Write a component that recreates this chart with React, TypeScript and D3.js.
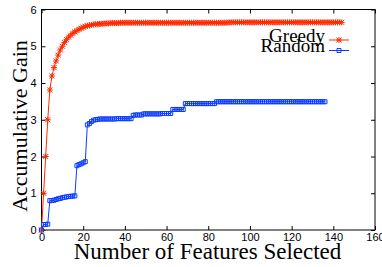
import React, {useEffect, useRef} from 'react';
import * as d3 from 'd3';

const width = 382;
const height = 267;
const margin = {top: 9.5, right: 7, bottom: 37, left: 41.5};

const xTicks = [0, 20, 40, 60, 80, 100, 120, 140, 160];
const yTicks = [0, 1, 2, 3, 4, 5, 6];

const seriesNames = ["Greedy", "Random"];

// accumulative gain per number of selected features (index = features)
const greedyGain = [
    0, 1.0, 2.0, 3.0, 3.81, 4.19, 4.42, 4.6, 4.76, 4.9,
    5.0, 5.1, 5.18, 5.25, 5.3, 5.35, 5.39, 5.43, 5.46, 5.49,
    5.52, 5.54, 5.56, 5.57, 5.58, 5.59, 5.6, 5.6, 5.61, 5.61,
    5.62, 5.62, 5.62, 5.63, 5.63, 5.63, 5.63, 5.63, 5.64, 5.64,
    5.64, 5.64, 5.64, 5.64, 5.64, 5.64, 5.64, 5.64, 5.64, 5.64,
    5.64, 5.64, 5.64, 5.64, 5.64, 5.64, 5.64, 5.64, 5.64, 5.64,
    5.64, 5.64, 5.64, 5.64, 5.64, 5.64, 5.64, 5.64, 5.64, 5.64,
    5.64, 5.64, 5.64, 5.64, 5.64, 5.64, 5.64, 5.64, 5.64, 5.64,
    5.64, 5.64, 5.64, 5.64, 5.64, 5.64, 5.64, 5.64, 5.64, 5.64,
    5.65, 5.65, 5.65, 5.65, 5.65, 5.65, 5.65, 5.65, 5.65, 5.65,
    5.65, 5.65, 5.65, 5.65, 5.65, 5.65, 5.65, 5.65, 5.65, 5.65,
    5.65, 5.65, 5.65, 5.65, 5.65, 5.65, 5.65, 5.65, 5.65, 5.65,
    5.65, 5.65, 5.65, 5.65, 5.65, 5.65, 5.65, 5.65, 5.65, 5.65,
    5.65, 5.65, 5.65, 5.65, 5.65, 5.65, 5.65, 5.65, 5.65, 5.65,
    5.65, 5.65, 5.65, 5.65, 5.65
];

const randomGain = [
    0, 0.15, 0.15, 0.16, 0.8, 0.8, 0.81, 0.83, 0.85, 0.86,
    0.88, 0.89, 0.9, 0.91, 0.92, 0.92, 0.93, 1.75, 1.78, 1.8,
    1.83, 1.86, 2.86, 2.9, 2.95, 2.99, 3.0, 3.01, 3.02, 3.02,
    3.02, 3.02, 3.02, 3.02, 3.02, 3.02, 3.03, 3.03, 3.03, 3.03,
    3.03, 3.03, 3.03, 3.03, 3.12, 3.13, 3.13, 3.13, 3.13, 3.16,
    3.16, 3.16, 3.16, 3.16, 3.16, 3.16, 3.16, 3.16, 3.17, 3.17,
    3.17, 3.17, 3.17, 3.28, 3.28, 3.28, 3.28, 3.28, 3.28, 3.44,
    3.44, 3.44, 3.44, 3.44, 3.44, 3.44, 3.44, 3.44, 3.44, 3.44,
    3.44, 3.44, 3.44, 3.44, 3.49, 3.49, 3.49, 3.49, 3.49, 3.49,
    3.49, 3.49, 3.49, 3.49, 3.49, 3.49, 3.49, 3.49, 3.49, 3.49,
    3.49, 3.49, 3.49, 3.49, 3.49, 3.49, 3.49, 3.49, 3.49, 3.49,
    3.49, 3.49, 3.49, 3.49, 3.49, 3.49, 3.49, 3.49, 3.49, 3.49,
    3.49, 3.49, 3.49, 3.49, 3.49, 3.49, 3.49, 3.49, 3.49, 3.49,
    3.49, 3.49, 3.49, 3.49, 3.49, 3.49, 3.49
];

const red = "#ff2a00";
const blue = "#0a3cff";
const font = "'Liberation Serif', 'Times New Roman', serif";

const starPath = "M-2.5,-2.5L2.5,2.5M-2.5,2.5L2.5,-2.5M-3,0H3M0,-3V3";
const squarePath = "M-2,-2H2V2H-2Z";

function App() {
    const ref = useRef<SVGSVGElement>(null);

    useEffect(() => {
        const svg = d3.select(ref.current);
        svg.selectAll("*").remove();

        const x = d3.scaleLinear().domain([0, 160]).range([margin.left, width - margin.right]);
        const y = d3.scaleLinear().domain([0, 6]).range([height - margin.bottom, margin.top]);
        const fmt = d3.format("d");

        const axes = svg.append("g").attr("font-family", font);

        const bottom = axes.append("g")
            .attr("transform", `translate(0, ${y(0)})`)
            .call(d3.axisBottom(x).tickValues(xTicks).tickFormat(fmt).tickSizeInner(-4).tickSizeOuter(0).tickPadding(3));
        const top = axes.append("g")
            .attr("transform", `translate(0, ${y(6)})`)
            .call(d3.axisTop(x).tickValues(xTicks).tickSizeInner(-4).tickSizeOuter(0).tickFormat(() => ""));
        const left = axes.append("g")
            .attr("transform", `translate(${x(0)}, 0)`)
            .call(d3.axisLeft(y).tickValues(yTicks).tickFormat(fmt).tickSizeInner(-4).tickSizeOuter(0).tickPadding(5));
        const right = axes.append("g")
            .attr("transform", `translate(${x(160)}, 0)`)
            .call(d3.axisRight(y).tickValues(yTicks).tickSizeInner(-4).tickSizeOuter(0).tickFormat(() => ""));

        [bottom, top, left, right].forEach(g => {
            g.select(".domain").remove();
            g.selectAll("text").attr("font-size", 11).attr("fill", "#000");
            g.selectAll("line").attr("stroke", "#000");
        });

        svg.append("rect")
            .attr("x", x(0))
            .attr("y", y(6))
            .attr("width", x(160) - x(0))
            .attr("height", y(0) - y(6))
            .attr("fill", "none")
            .attr("stroke", "#000")
            .attr("stroke-width", 1);

        const line = d3.line<number>()
            .x((d, i) => x(i))
            .y(d => y(d));

        const series = [
            {name: seriesNames[0], data: greedyGain, color: red, marker: starPath},
            {name: seriesNames[1], data: randomGain, color: blue, marker: squarePath}
        ];

        series.forEach(s => {
            svg.append("path")
                .datum(s.data)
                .attr("d", line)
                .attr("fill", "none")
                .attr("stroke", s.color)
                .attr("stroke-width", 1);
            svg.append("g")
                .selectAll("path")
                .data(s.data)
                .enter()
                .append("path")
                .attr("transform", (d, i) => `translate(${x(i)}, ${y(d)})`)
                .attr("d", s.marker)
                .attr("fill", "none")
                .attr("stroke", s.color)
                .attr("stroke-width", 1);
        });

        // legend
        const legend = svg.append("g");
        series.forEach((s, i) => {
            const ly = 40 + i * 10.5;
            legend.append("text")
                .attr("x", 325)
                .attr("y", ly + 1.5)
                .attr("text-anchor", "end")
                .attr("font-family", font)
                .attr("font-size", 19)
                .text(s.name);
            legend.append("line")
                .attr("x1", 329)
                .attr("x2", 349)
                .attr("y1", ly)
                .attr("y2", ly)
                .attr("stroke", s.color)
                .attr("stroke-width", 1);
            legend.append("path")
                .attr("transform", `translate(339, ${ly})`)
                .attr("d", s.marker)
                .attr("fill", "none")
                .attr("stroke", s.color);
        });

        svg.append("text")
            .attr("x", 207.5)
            .attr("y", 259)
            .attr("text-anchor", "middle")
            .attr("font-family", font)
            .attr("font-size", 23)
            .text("Number of Features Selected");

        svg.append("text")
            .attr("transform", `translate(27, 126) rotate(-90)`)
            .attr("text-anchor", "middle")
            .attr("font-family", font)
            .attr("font-size", 22)
            .text("Accumulative Gain");
    }, []);

    return (
        <svg ref={ref} width={width} height={height}
             style={{position: 'absolute', left: 0, top: 0, background: '#fff'}}/>
    );
}

export default App;
